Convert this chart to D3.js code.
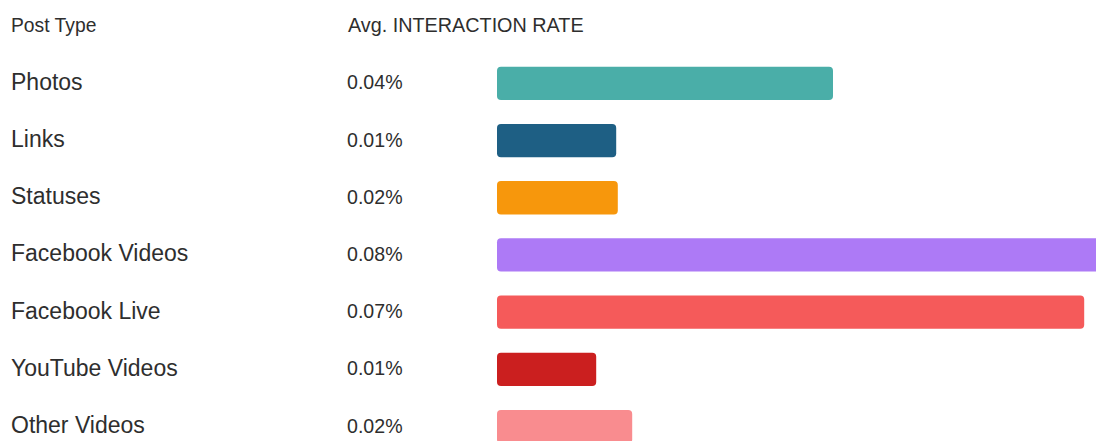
<!DOCTYPE html>
<html>
<head>
<meta charset="utf-8">
<script src="https://cdn.jsdelivr.net/npm/d3@7"></script>
<style>
  html, body { margin: 0; padding: 0; background: #fff; }
  svg { display: block; }
  text { font-family: "Liberation Sans", Arial, sans-serif; fill: #2e2e2e; }
</style>
</head>
<body>
<svg id="chart" width="1096" height="441"></svg>
<script>
const categories = ["Photos", "Links", "Statuses", "Facebook Videos", "Facebook Live", "YouTube Videos", "Other Videos"];
const values = [0.042, 0.0149, 0.0151, 0.079, 0.0734, 0.0124, 0.0169];
const valueLabels = ["0.04%", "0.01%", "0.02%", "0.08%", "0.07%", "0.01%", "0.02%"];
const colors = ["#4aaea8", "#1e5f84", "#f7970c", "#ad7af6", "#f55a5a", "#cb1f1f", "#f98c8f"];
const headers = ["Post Type", "Avg. INTERACTION RATE"];

const svg = d3.select("#chart");
const barX0 = 497;
const x = d3.scaleLinear().domain([0, 0.08]).range([0, 640]);
const y = d3.scaleBand().domain(categories).range([57.55, 452.35]).paddingInner(0.418).paddingOuter(0.16);

svg.append("text").attr("x", 11).attr("y", 31.5)
  .style("font-size", "19.3px").text(headers[0]);
svg.append("text").attr("x", 348).attr("y", 31.5)
  .style("font-size", "19.8px").text(headers[1]);

const rows = svg.selectAll("g.row").data(categories).join("g").attr("class", "row");

rows.append("text")
  .attr("x", 11)
  .attr("y", d => y(d) + y.bandwidth() / 2 + 6.5)
  .style("font-size", "23px")
  .text(d => d);

rows.append("text")
  .attr("x", 347)
  .attr("y", d => y(d) + y.bandwidth() / 2 + 6)
  .style("font-size", "19.6px")
  .text((d, i) => valueLabels[i]);

rows.append("rect")
  .attr("x", barX0)
  .attr("y", d => y(d))
  .attr("height", y.bandwidth())
  .attr("width", (d, i) => x(values[i]))
  .attr("rx", 4).attr("ry", 4)
  .attr("fill", (d, i) => colors[i]);
</script>
</body>
</html>
